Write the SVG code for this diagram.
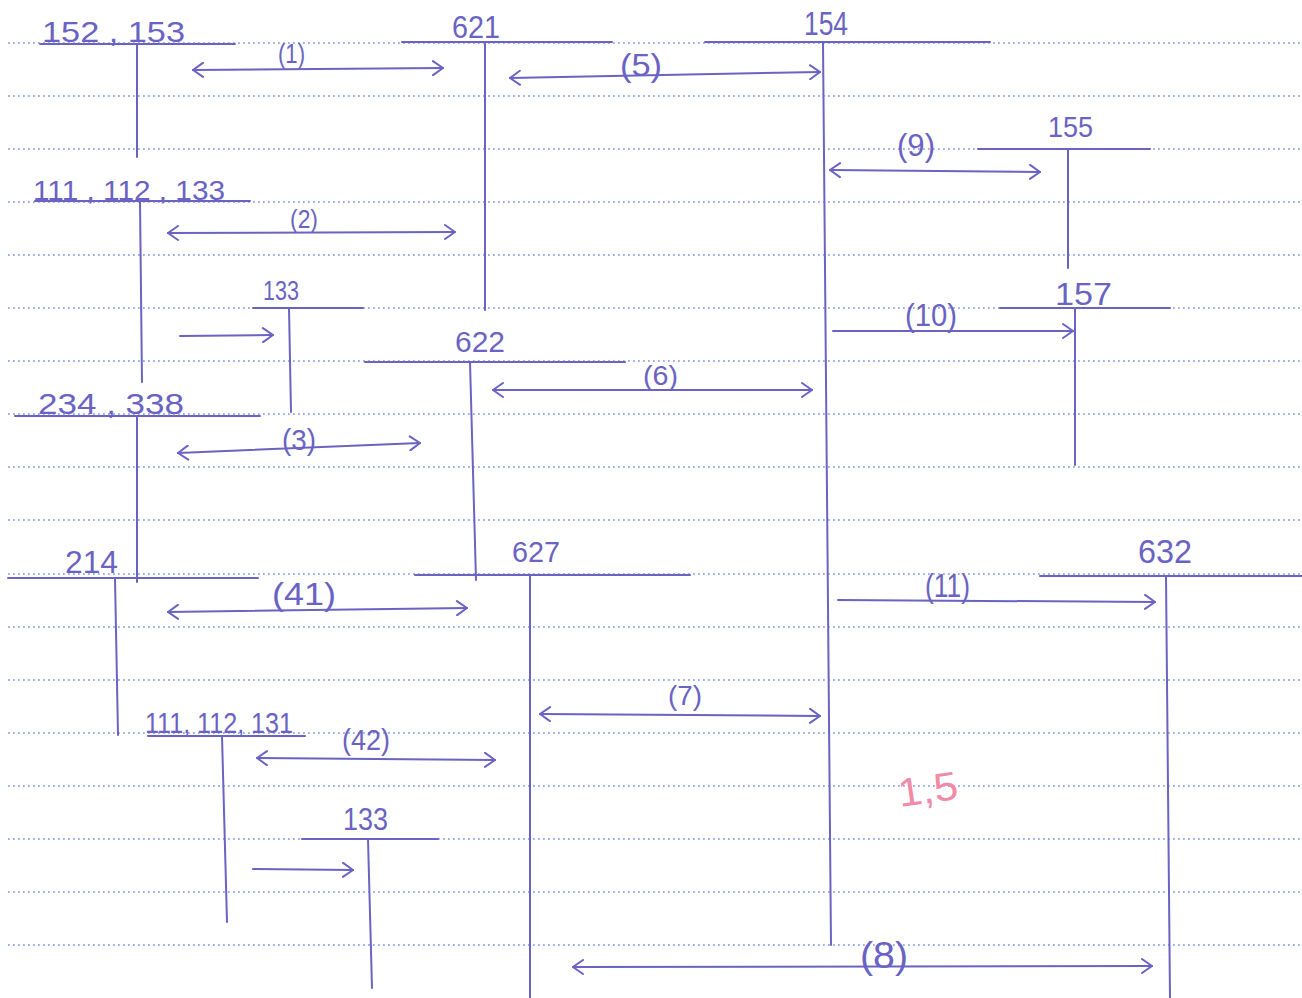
<svg xmlns="http://www.w3.org/2000/svg" width="1302" height="998" viewBox="0 0 1302 998">
<style>
.rule{stroke:#7f98e8;stroke-width:1.5;stroke-dasharray:1.8 3.2;fill:none}
.ink{stroke:#6a63c3;stroke-width:2;fill:none;stroke-linecap:round}
.lbl{font-family:"Liberation Sans",Arial,sans-serif;fill:#6a63c3}
.arr{stroke:#6a63c3;stroke-width:2;fill:none;marker-end:url(#hd);stroke-linecap:round}
.dbl{marker-start:url(#hd)}
</style>
<defs>
<marker id="hd" viewBox="0 0 14 16" refX="12" refY="8" markerWidth="14" markerHeight="16" markerUnits="userSpaceOnUse" orient="auto-start-reverse">
<path d="M2 1 L12 8 L2 15" fill="none" stroke="#6a63c3" stroke-width="2" stroke-linecap="round" stroke-linejoin="round"/>
</marker>
</defs>
<rect width="1302" height="998" fill="#ffffff"/>
<g id="rules">
<line class="rule" x1="8" y1="43" x2="1302" y2="43"/>
<line class="rule" x1="8" y1="96" x2="1302" y2="96"/>
<line class="rule" x1="8" y1="149" x2="1302" y2="149"/>
<line class="rule" x1="8" y1="202" x2="1302" y2="202"/>
<line class="rule" x1="8" y1="255" x2="1302" y2="255"/>
<line class="rule" x1="8" y1="308" x2="1302" y2="308"/>
<line class="rule" x1="8" y1="361" x2="1302" y2="361"/>
<line class="rule" x1="8" y1="414" x2="1302" y2="414"/>
<line class="rule" x1="8" y1="467" x2="1302" y2="467"/>
<line class="rule" x1="8" y1="520" x2="1302" y2="520"/>
<line class="rule" x1="8" y1="574" x2="1302" y2="574"/>
<line class="rule" x1="8" y1="627" x2="1302" y2="627"/>
<line class="rule" x1="8" y1="680" x2="1302" y2="680"/>
<line class="rule" x1="8" y1="733" x2="1302" y2="733"/>
<line class="rule" x1="8" y1="786" x2="1302" y2="786"/>
<line class="rule" x1="8" y1="839" x2="1302" y2="839"/>
<line class="rule" x1="8" y1="892" x2="1302" y2="892"/>
<line class="rule" x1="8" y1="945" x2="1302" y2="945"/>
</g>
<g id="acc-152-153"><path class="ink" d="M40 44 H235 M137 44 V157"/><text class="lbl" x="42" y="42" font-size="29" textLength="143" lengthAdjust="spacingAndGlyphs">152 , 153</text></g>
<g id="acc-621"><path class="ink" d="M402 42 H612 M485 42 V310"/><text class="lbl" x="452" y="38" font-size="31" textLength="48" lengthAdjust="spacingAndGlyphs">621</text></g>
<g id="acc-154"><path class="ink" d="M705 42 H990 M823 42 L831 945"/><text class="lbl" x="804" y="35" font-size="33" textLength="44" lengthAdjust="spacingAndGlyphs">154</text></g>
<g id="acc-155"><path class="ink" d="M978 149 H1150 M1068 149 V268"/><text class="lbl" x="1048" y="137" font-size="30" textLength="45" lengthAdjust="spacingAndGlyphs">155</text></g>
<g id="acc-111-112-133"><path class="ink" d="M35 201 H250 M140 201 L142 382"/><text class="lbl" x="33" y="200" font-size="28" textLength="192" lengthAdjust="spacingAndGlyphs">111 , 112 , 133</text></g>
<g id="acc-133-a"><path class="ink" d="M253 308 H363 M289 308 L291 412"/><text class="lbl" x="263" y="300" font-size="28" textLength="36" lengthAdjust="spacingAndGlyphs">133</text></g>
<g id="acc-157"><path class="ink" d="M1000 308 H1170 M1075 308 V465"/><text class="lbl" x="1055" y="305" font-size="31" textLength="57" lengthAdjust="spacingAndGlyphs">157</text></g>
<g id="acc-622"><path class="ink" d="M365 362 H625 M470 362 L476 580"/><text class="lbl" x="455" y="352" font-size="29" textLength="50" lengthAdjust="spacingAndGlyphs">622</text></g>
<g id="acc-234-338"><path class="ink" d="M15 416 H260 M137 416 V582"/><text class="lbl" x="38" y="414" font-size="29" textLength="146" lengthAdjust="spacingAndGlyphs">234 , 338</text></g>
<g id="acc-214"><path class="ink" d="M8 578 H258 M115 578 L118 735"/><text class="lbl" x="65" y="573" font-size="31" textLength="53" lengthAdjust="spacingAndGlyphs">214</text></g>
<g id="acc-627"><path class="ink" d="M415 575 H690 M530 575 V998"/><text class="lbl" x="512" y="562" font-size="29" textLength="48" lengthAdjust="spacingAndGlyphs">627</text></g>
<g id="acc-632"><path class="ink" d="M1040 576 H1302 M1166 576 L1170 998"/><text class="lbl" x="1138" y="563" font-size="33" textLength="54" lengthAdjust="spacingAndGlyphs">632</text></g>
<g id="acc-111-112-131"><path class="ink" d="M148 736 H305 M222 736 L227 922"/><text class="lbl" x="145" y="733" font-size="29" textLength="148" lengthAdjust="spacingAndGlyphs">111, 112, 131</text></g>
<g id="acc-133-b"><path class="ink" d="M302 839 H438 M368 839 L372 988"/><text class="lbl" x="343" y="830" font-size="32" textLength="45" lengthAdjust="spacingAndGlyphs">133</text></g>
<g id="connectors">
<path class="arr dbl" d="M193 70 L443 68"/>
<path class="arr dbl" d="M510 78 L820 72"/>
<path class="arr dbl" d="M830 170 L1040 172"/>
<path class="arr dbl" d="M168 233 L455 232"/>
<path class="arr" d="M833 331 L1073 331"/>
<path class="arr" d="M180 336 L273 335"/>
<path class="arr dbl" d="M493 390 L812 390"/>
<path class="arr dbl" d="M178 453 L420 443"/>
<path class="arr dbl" d="M168 612 L467 608"/>
<path class="arr" d="M838 600 L1155 602"/>
<path class="arr dbl" d="M540 714 L820 716"/>
<path class="arr dbl" d="M257 758 L495 760"/>
<path class="arr" d="M253 869 L353 870"/>
<path class="arr dbl" d="M573 967 L1152 966"/>
<text class="lbl" x="278" y="63" font-size="27" textLength="27" lengthAdjust="spacingAndGlyphs">(1)</text>
<text class="lbl" x="620" y="76" font-size="32" textLength="42" lengthAdjust="spacingAndGlyphs">(5)</text>
<text class="lbl" x="897" y="156" font-size="31" textLength="38" lengthAdjust="spacingAndGlyphs">(9)</text>
<text class="lbl" x="290" y="228" font-size="25" textLength="28" lengthAdjust="spacingAndGlyphs">(2)</text>
<text class="lbl" x="905" y="326" font-size="31" textLength="52" lengthAdjust="spacingAndGlyphs">(10)</text>
<text class="lbl" x="643" y="385" font-size="27" textLength="35" lengthAdjust="spacingAndGlyphs">(6)</text>
<text class="lbl" x="282" y="450" font-size="30" textLength="34" lengthAdjust="spacingAndGlyphs">(3)</text>
<text class="lbl" x="272" y="605" font-size="31" textLength="64" lengthAdjust="spacingAndGlyphs">(41)</text>
<text class="lbl" x="925" y="597" font-size="34" textLength="45" lengthAdjust="spacingAndGlyphs">(11)</text>
<text class="lbl" x="668" y="705" font-size="28" textLength="34" lengthAdjust="spacingAndGlyphs">(7)</text>
<text class="lbl" x="342" y="750" font-size="30" textLength="48" lengthAdjust="spacingAndGlyphs">(42)</text>
<text class="lbl" x="860" y="968" font-size="36" textLength="48" lengthAdjust="spacingAndGlyphs">(8)</text>
</g>
<text x="898" y="803" font-family="Liberation Sans, Arial, sans-serif" font-size="40" fill="#f08aa6" textLength="60" lengthAdjust="spacingAndGlyphs" transform="rotate(-8 928 790)">1,5</text>
</svg>
